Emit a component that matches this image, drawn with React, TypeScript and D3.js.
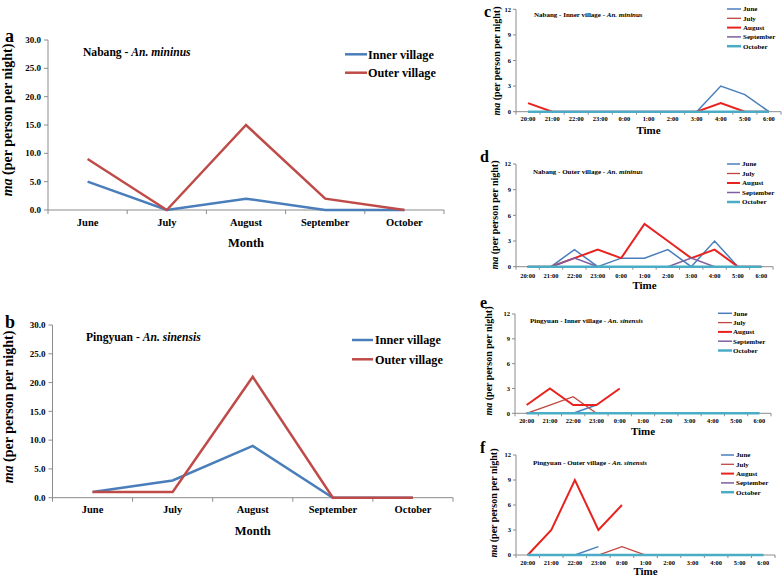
import React from "react";
import * as d3 from "d3";

// ---------- Data ----------
const months = ["June", "July", "August", "September", "October"];
const nabangInner = [5, 0, 2, 0, 0];
const nabangOuter = [9, 0, 15, 2, 0];
const pingyuanInner = [1, 3, 9, 0, 0];
const pingyuanOuter = [1, 1, 21, 0, 0];
const bigTicks = [0, 5, 10, 15, 20, 25, 30];
const bigSeries = ["Inner village", "Outer village"];

const hours = ["20:00", "21:00", "22:00", "23:00", "0:00", "1:00", "2:00", "3:00", "4:00", "5:00", "6:00"];
const smallTicks = [0, 3, 6, 9, 12];
const smallSeries = ["June", "July", "August", "September", "October"];

type V = number | null;
// c: Nabang - Inner village
const cJune: V[] = [0, 0, 0, 0, 0, 0, 0, 0, 3, 2, 0];
const cJuly: V[] = [0, 0, 0, 0, 0, 0, 0, 0, 0, 0, 0];
const cAugust: V[] = [1, 0, 0, 0, 0, 0, 0, 0, 1, 0, 0];
const cSeptember: V[] = [0, 0, 0, 0, 0, 0, 0, 0, 0, 0, 0];
const cOctober: V[] = [0, 0, 0, 0, 0, 0, 0, 0, 0, 0, 0];
// d: Nabang - Outer village
const dJune: V[] = [0, 0, 2, 0, 1, 1, 2, 0, 3, 0, 0];
const dJuly: V[] = [0, 0, 0, 0, 0, 0, 0, 0, 0, 0, 0];
const dAugust: V[] = [0, 0, 1, 2, 1, 5, 3, 1, 2, 0, 0];
const dSeptember: V[] = [0, 0, 1, 0, 0, 0, 0, 1, 0, 0, 0];
const dOctober: V[] = [0, 0, 0, 0, 0, 0, 0, 0, 0, 0, 0];
// e: Pingyuan - Inner village
const eJune: V[] = [0, 0, 0, 1, null, null, null, null, null, null, null];
const eJuly: V[] = [0, 1, 2, 0, null, null, null, null, null, null, null];
const eAugust: V[] = [1, 3, 1, 1, 3, null, null, null, null, null, null];
const eSeptember: V[] = [0, 0, 0, 0, 0, 0, 0, 0, 0, 0, 0];
const eOctober: V[] = [0, 0, 0, 0, 0, 0, 0, 0, 0, 0, 0];
// f: Pingyuan - Outer village
const fJune: V[] = [0, 0, 0, 1, null, null, null, null, null, null, null];
const fJuly: V[] = [0, 0, 0, 0, 1, 0, 0, 0, 0, 0, 0];
const fAugust: V[] = [0, 3, 9, 3, 6, null, null, null, null, null, null];
const fSeptember: V[] = [0, 0, 0, 0, 0, 0, 0, 0, 0, 0, 0];
const fOctober: V[] = [0, 0, 0, 0, 0, 0, 0, 0, 0, 0, 0];

// ---------- Styles ----------
const FONT = "'Liberation Serif', 'Times New Roman', serif";
const AXIS = "#8c8c8c";
const bigColors = ["#4a7ebb", "#be4b48"];
const smallColors = ["#4a7ebb", "#c0473f", "#e8231f", "#7e5ea0", "#4bacc6"];
const smallWidths = [1.5, 1.3, 2, 1.5, 2.5];

type BigCfg = {
  x0: number; x1: number; yZero: number; yTop: number;
  ylabX: number; ylabY: number; letter: string; letterX: number; letterY: number;
  titleA: string; titleB: string; titleX: number; titleY: number;
  legX0: number; legX1: number; legY: number[]; legTx: number;
  catY: number; monthY: number;
};

function BigPanel({ cfg, inner, outer }: { cfg: BigCfg; inner: number[]; outer: number[] }) {
  const x = d3.scaleBand<string>().domain(months).range([cfg.x0, cfg.x1]);
  const y = d3.scaleLinear().domain([0, 30]).range([cfg.yZero, cfg.yTop]);
  const cx = (m: string) => (x(m) as number) + x.bandwidth() / 2;
  const line = d3.line<number>().x((_, i) => cx(months[i])).y((v) => y(v));
  const bounds = months.map((m) => x(m) as number).concat([cfg.x1]);
  return (
    <g fontFamily={FONT} fontWeight="bold">
      <line x1={cfg.x0} x2={cfg.x0} y1={y(30)} y2={y(0)} stroke={AXIS} />
      <line x1={cfg.x0} x2={cfg.x1} y1={y(0)} y2={y(0)} stroke={AXIS} />
      {bigTicks.map((t) => (
        <g key={t}>
          <line x1={cfg.x0 - 4} x2={cfg.x0} y1={y(t)} y2={y(t)} stroke={AXIS} />
          <text x={cfg.x0 - 7} y={y(t)} dy="0.35em" textAnchor="end" fontSize={9}>
            {t.toFixed(1)}
          </text>
        </g>
      ))}
      {bounds.map((b, i) => (
        <line key={i} x1={b} x2={b} y1={y(0)} y2={y(0) + 4} stroke={AXIS} />
      ))}
      {months.map((m) => (
        <text key={m} x={cx(m)} y={cfg.catY} textAnchor="middle" fontSize={10.5}>
          {m}
        </text>
      ))}
      <text x={(cfg.x0 + cfg.x1) / 2} y={cfg.monthY} textAnchor="middle" fontSize={12.5}>
        Month
      </text>
      <text transform={`translate(${cfg.ylabX},${cfg.ylabY}) rotate(-90)`} textAnchor="middle" fontSize={14}>
        <tspan fontStyle="italic">ma</tspan> (per person per night)
      </text>
      <text x={cfg.letterX} y={cfg.letterY} fontSize={18}>{cfg.letter}</text>
      <text x={cfg.titleX} y={cfg.titleY} fontSize={11.6}>
        {cfg.titleA}
        <tspan fontStyle="italic">{cfg.titleB}</tspan>
      </text>
      {[inner, outer].map((s, i) => (
        <path key={i} d={line(s) || ""} fill="none" stroke={bigColors[i]} strokeWidth={2.5} />
      ))}
      {bigSeries.map((n, i) => (
        <g key={n}>
          <line x1={cfg.legX0} x2={cfg.legX1} y1={cfg.legY[i]} y2={cfg.legY[i]} stroke={bigColors[i]} strokeWidth={2.5} />
          <text x={cfg.legTx} y={cfg.legY[i]} dy="0.35em" fontSize={12.2}>{n}</text>
        </g>
      ))}
    </g>
  );
}

type SmallCfg = {
  x0: number; x1: number; yZero: number; yTop: number;
  ylabX: number; ylabY: number; letter: string; letterX: number; letterY: number;
  titleA: string; titleB: string; titleX: number; titleY: number;
  legX0: number; legX1: number; legY0: number; legDy: number; legTx: number;
  tickY: number; timeY: number;
};

function SmallPanel({ cfg, series }: { cfg: SmallCfg; series: V[][] }) {
  const x = d3.scaleBand<string>().domain(hours).range([cfg.x0, cfg.x1]);
  const y = d3.scaleLinear().domain([0, 12]).range([cfg.yZero, cfg.yTop]);
  const cx = (h: string) => (x(h) as number) + x.bandwidth() / 2;
  const line = d3
    .line<V>()
    .defined((v) => v !== null)
    .x((_, i) => cx(hours[i]))
    .y((v) => y(v as number));
  const bounds = hours.map((h) => x(h) as number).concat([cfg.x1]);
  return (
    <g fontFamily={FONT} fontWeight="bold">
      <line x1={cfg.x0} x2={cfg.x0} y1={y(12)} y2={y(0)} stroke={AXIS} />
      <line x1={cfg.x0} x2={cfg.x1} y1={y(0)} y2={y(0)} stroke={AXIS} />
      {smallTicks.map((t) => (
        <g key={t}>
          <line x1={cfg.x0 - 3} x2={cfg.x0} y1={y(t)} y2={y(t)} stroke={AXIS} />
          <text x={cfg.x0 - 5} y={y(t)} dy="0.35em" textAnchor="end" fontSize={6.5}>{t}</text>
        </g>
      ))}
      {bounds.map((b, i) => (
        <line key={i} x1={b} x2={b} y1={y(0)} y2={y(0) + 3} stroke={AXIS} />
      ))}
      {hours.map((h) => (
        <text key={h} x={cx(h)} y={cfg.tickY} textAnchor="middle" fontSize={6.4}>{h}</text>
      ))}
      <text x={(cfg.x0 + cfg.x1) / 2} y={cfg.timeY} textAnchor="middle" fontSize={11}>Time</text>
      <text transform={`translate(${cfg.ylabX},${cfg.ylabY}) rotate(-90)`} textAnchor="middle" fontSize={10}>
        <tspan fontStyle="italic">ma</tspan> (per person per night)
      </text>
      <text x={cfg.letterX} y={cfg.letterY} fontSize={16}>{cfg.letter}</text>
      <text x={cfg.titleX} y={cfg.titleY} fontSize={7}>
        {cfg.titleA}
        <tspan fontStyle="italic">{cfg.titleB}</tspan>
      </text>
      {series.map((s, i) => (
        <path key={i} d={line(s) || ""} fill="none" stroke={smallColors[i]} strokeWidth={smallWidths[i]} />
      ))}
      {smallSeries.map((n, i) => {
        const ly = cfg.legY0 + i * cfg.legDy;
        return (
          <g key={n}>
            <line x1={cfg.legX0} x2={cfg.legX1} y1={ly} y2={ly} stroke={smallColors[i]} strokeWidth={smallWidths[i]} />
            <text x={cfg.legTx} y={ly} dy="0.35em" fontSize={7}>{n}</text>
          </g>
        );
      })}
    </g>
  );
}

const cfgA: BigCfg = {
  x0: 48, x1: 444, yZero: 210, yTop: 40, ylabX: 12, ylabY: 120, letter: "a", letterX: 5, letterY: 42,
  titleA: "Nabang - ", titleB: "An. mininus", titleX: 83, titleY: 56,
  legX0: 345, legX1: 367, legY: [54.3, 72.7], legTx: 368, catY: 226, monthY: 247,
};
const cfgB: BigCfg = {
  x0: 52.5, x1: 453, yZero: 497.7, yTop: 325, ylabX: 13, ylabY: 407, letter: "b", letterX: 5, letterY: 328,
  titleA: "Pingyuan - ", titleB: "An. sinensis", titleX: 86, titleY: 341,
  legX0: 352, legX1: 373, legY: [340, 359.3], legTx: 375, catY: 513, monthY: 535,
};
const cfgC: SmallCfg = {
  x0: 516, x1: 781, yZero: 111.7, yTop: 9.3, ylabX: 500, ylabY: 61, letter: "c", letterX: 484, letterY: 17,
  titleA: "Nabang - Inner village - ", titleB: "An. mininus", titleX: 534, titleY: 17,
  legX0: 727, legX1: 741, legY0: 9, legDy: 9.3, legTx: 743, tickY: 120.7, timeY: 134,
};
const cfgD: SmallCfg = {
  x0: 516, x1: 773, yZero: 266.7, yTop: 164, ylabX: 498, ylabY: 215, letter: "d", letterX: 480, letterY: 162,
  titleA: "Nabang - Outer village - ", titleB: "An. mininus", titleX: 533, titleY: 174.3,
  legX0: 727, legX1: 740, legY0: 164, legDy: 9.5, legTx: 742, tickY: 278, timeY: 289,
};
const cfgE: SmallCfg = {
  x0: 515, x1: 771, yZero: 413.3, yTop: 314, ylabX: 492, ylabY: 361, letter: "e", letterX: 480, letterY: 308,
  titleA: "Pingyuan - Inner village - ", titleB: "An. sinensis", titleX: 530, titleY: 323.3,
  legX0: 718, legX1: 732, legY0: 313.3, legDy: 9.3, legTx: 733, tickY: 423.3, timeY: 435,
};
const cfgF: SmallCfg = {
  x0: 516, x1: 775, yZero: 555, yTop: 455, ylabX: 497, ylabY: 503, letter: "f", letterX: 480, letterY: 453,
  titleA: "Pingyuan - Outer village - ", titleB: "An. sinensis", titleX: 533, titleY: 465,
  legX0: 721, legX1: 734, legY0: 455, legDy: 9.3, legTx: 736, tickY: 565, timeY: 575,
};

export default function App() {
  return (
    <svg
      width={784}
      height={577}
      style={{ position: "absolute", left: 0, top: 0, background: "#fff" }}
    >
      <rect width={784} height={577} fill="#fff" />
      <BigPanel cfg={cfgA} inner={nabangInner} outer={nabangOuter} />
      <BigPanel cfg={cfgB} inner={pingyuanInner} outer={pingyuanOuter} />
      <SmallPanel cfg={cfgC} series={[cJune, cJuly, cAugust, cSeptember, cOctober]} />
      <SmallPanel cfg={cfgD} series={[dJune, dJuly, dAugust, dSeptember, dOctober]} />
      <SmallPanel cfg={cfgE} series={[eJune, eJuly, eAugust, eSeptember, eOctober]} />
      <SmallPanel cfg={cfgF} series={[fJune, fJuly, fAugust, fSeptember, fOctober]} />
    </svg>
  );
}
